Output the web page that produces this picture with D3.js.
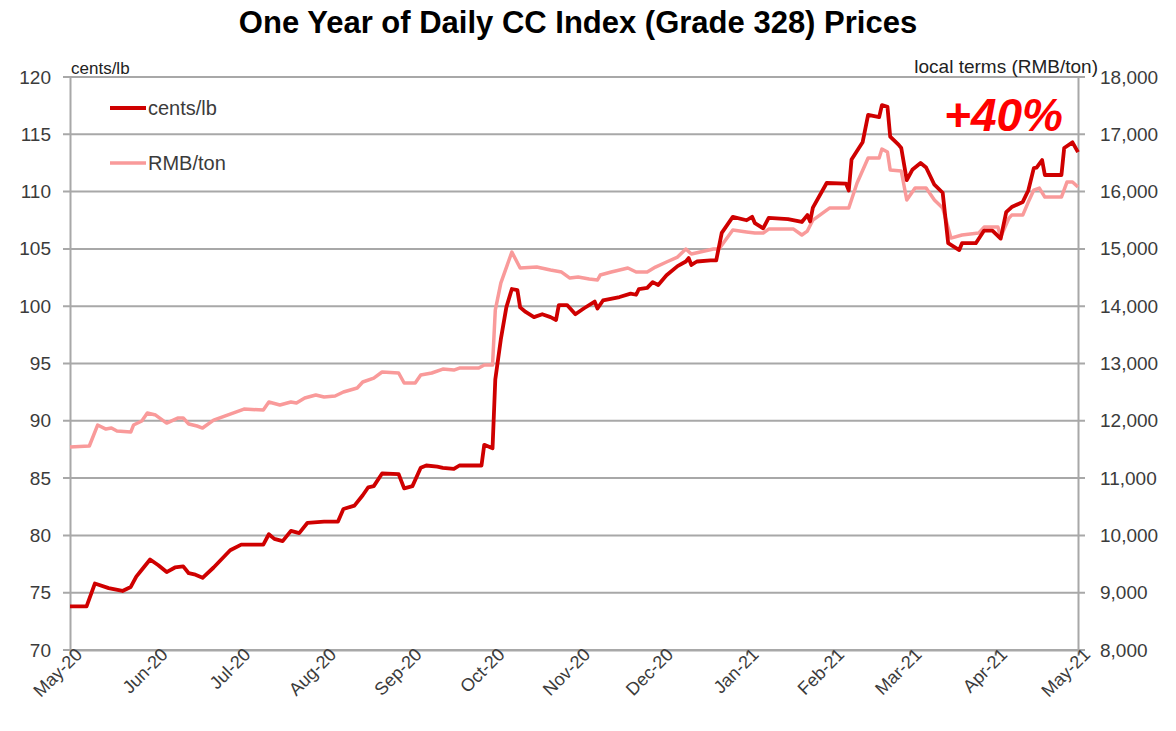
<!DOCTYPE html>
<html>
<head>
<meta charset="utf-8">
<script src="https://cdn.jsdelivr.net/npm/d3@7"></script>
<style>
  body { margin: 0; background: #fff; }
  svg { font-family: "Liberation Sans", Arial, sans-serif; }
</style>
</head>
<body>
<div id="chart"></div>
<script>
// cents/lb series (date, value)
var centsDates = ["2020-05-01","2020-05-07","2020-05-10","2020-05-15","2020-05-20","2020-05-23","2020-05-25","2020-05-27","2020-05-30",
  "2020-06-02","2020-06-05","2020-06-08","2020-06-11","2020-06-13","2020-06-15","2020-06-18","2020-06-22","2020-06-28",
  "2020-07-02","2020-07-10","2020-07-12","2020-07-14","2020-07-17","2020-07-20","2020-07-23","2020-07-26",
  "2020-08-01","2020-08-06","2020-08-08","2020-08-12","2020-08-15","2020-08-17","2020-08-19","2020-08-22","2020-08-28","2020-08-30",
  "2020-09-02","2020-09-05","2020-09-07","2020-09-11","2020-09-13","2020-09-17","2020-09-19","2020-09-27","2020-09-28",
  "2020-10-01","2020-10-02","2020-10-04","2020-10-06","2020-10-08","2020-10-10","2020-10-11","2020-10-13","2020-10-16","2020-10-19",
  "2020-10-22","2020-10-24","2020-10-25","2020-10-28","2020-10-31",
  "2020-11-03","2020-11-07","2020-11-08","2020-11-10","2020-11-16","2020-11-20","2020-11-22","2020-11-23","2020-11-26","2020-11-28","2020-11-30",
  "2020-12-03","2020-12-07","2020-12-10","2020-12-11","2020-12-12","2020-12-14","2020-12-19","2020-12-21","2020-12-23","2020-12-27",
  "2021-01-01","2021-01-03","2021-01-04","2021-01-07","2021-01-09","2021-01-16","2021-01-21","2021-01-23","2021-01-24","2021-01-25","2021-01-30",
  "2021-02-06","2021-02-07","2021-02-08","2021-02-12","2021-02-14","2021-02-18","2021-02-19","2021-02-21","2021-02-22","2021-02-25","2021-02-26","2021-02-28",
  "2021-03-02","2021-03-05","2021-03-07","2021-03-10","2021-03-13","2021-03-15","2021-03-17","2021-03-19","2021-03-20","2021-03-25","2021-03-28","2021-03-31",
  "2021-04-03","2021-04-05","2021-04-07","2021-04-11","2021-04-13","2021-04-15","2021-04-16","2021-04-18","2021-04-19","2021-04-25","2021-04-26","2021-04-29","2021-05-01"];
var centsValues = [73.8,73.8,75.8,75.4,75.15,75.5,76.4,77.0,77.9,
  77.4,76.8,77.2,77.3,76.7,76.6,76.3,77.2,78.7,
  79.2,79.2,80.1,79.7,79.5,80.4,80.2,81.1,
  81.2,81.2,82.3,82.6,83.5,84.2,84.3,85.4,85.35,84.1,
  84.3,85.9,86.1,86.0,85.9,85.8,86.1,86.1,87.9,
  87.6,93.6,97.1,99.9,101.5,101.4,99.9,99.5,99.05,99.3,
  99.05,98.8,100.1,100.1,99.3,
  99.8,100.4,99.8,100.5,100.8,101.1,101.0,101.5,101.6,102.1,101.85,
  102.7,103.5,103.9,104.2,103.6,103.9,104.0,104.0,106.4,107.8,
  107.5,107.8,107.25,106.8,107.7,107.6,107.35,107.95,107.4,108.6,110.75,
  110.7,110.1,112.8,114.3,116.7,116.5,117.55,117.4,114.8,114.1,113.8,111.0,
  111.9,112.5,112.1,110.6,109.9,105.5,105.2,104.9,105.5,105.5,106.6,106.6,
  105.9,108.2,108.65,109.1,110.1,112.05,112.1,112.75,111.45,111.45,113.8,114.3,113.45];

// RMB/ton series (date, value)
var rmbDates = ["2020-05-01","2020-05-08","2020-05-11","2020-05-14","2020-05-16","2020-05-18","2020-05-23","2020-05-24","2020-05-27","2020-05-29",
  "2020-06-01","2020-06-05","2020-06-09","2020-06-11","2020-06-13","2020-06-16","2020-06-18","2020-06-22","2020-06-27","2020-06-30",
  "2020-07-03","2020-07-10","2020-07-12","2020-07-16","2020-07-20","2020-07-22","2020-07-25","2020-07-29",
  "2020-08-01","2020-08-05","2020-08-08","2020-08-13","2020-08-15","2020-08-19","2020-08-22","2020-08-28","2020-08-30",
  "2020-09-03","2020-09-05","2020-09-09","2020-09-13","2020-09-17","2020-09-19","2020-09-26","2020-09-28",
  "2020-10-01","2020-10-02","2020-10-04","2020-10-08","2020-10-11","2020-10-17","2020-10-22","2020-10-26","2020-10-29",
  "2020-11-01","2020-11-05","2020-11-08","2020-11-09","2020-11-13","2020-11-19","2020-11-22","2020-11-26","2020-11-29",
  "2020-12-03","2020-12-07","2020-12-10","2020-12-12","2020-12-20","2020-12-22","2020-12-27",
  "2021-01-01","2021-01-04","2021-01-07","2021-01-09","2021-01-18","2021-01-21","2021-01-23","2021-01-25","2021-01-29","2021-01-31",
  "2021-02-07","2021-02-10","2021-02-14","2021-02-18","2021-02-19","2021-02-21","2021-02-22","2021-02-26","2021-02-28",
  "2021-03-03","2021-03-07","2021-03-10","2021-03-13","2021-03-16","2021-03-20","2021-03-26","2021-03-28",
  "2021-04-02","2021-04-03","2021-04-06","2021-04-07","2021-04-11","2021-04-13","2021-04-15","2021-04-17","2021-04-19","2021-04-25","2021-04-27","2021-04-29","2021-05-01"];
var rmbValues = [11542,11560,11926,11856,11874,11822,11804,11926,11996,12136,
  12100,11960,12048,12048,11944,11909,11874,12013,12100,12153,
  12205,12188,12328,12275,12328,12310,12397,12450,
  12415,12432,12502,12572,12677,12746,12851,12834,12660,
  12660,12799,12834,12903,12886,12921,12921,12973,
  12973,13933,14404,14945,14666,14683,14631,14596,14491,
  14509,14474,14457,14544,14596,14666,14596,14596,14683,
  14771,14858,14997,14910,14997,14997,15329,
  15294,15276,15276,15346,15346,15242,15311,15503,15643,15713,
  15713,16149,16585,16585,16742,16690,16376,16359,15853,
  16062,16062,15853,15713,15189,15242,15276,15381,
  15381,15207,15538,15590,15590,15817,16027,16062,15905,15905,16167,16167,16080];

var leftTicks = [70, 75, 80, 85, 90, 95, 100, 105, 110, 115, 120];
var rightTicks = [8000, 9000, 10000, 11000, 12000, 13000, 14000, 15000, 16000, 17000, 18000];
var monthTicks = ["2020-05-01","2020-06-01","2020-07-01","2020-08-01","2020-09-01","2020-10-01","2020-11-01",
  "2020-12-01","2021-01-01","2021-02-01","2021-03-01","2021-04-01","2021-05-01"];

var seriesNames = ["cents/lb", "RMB/ton"];
var seriesColors = ["#cf0000", "#f99a9a"];

var W = 1176, H = 731;
var margin = { top: 77, right: 98, bottom: 81, left: 70 };
var width = W - margin.left - margin.right,
  height = H - margin.top - margin.bottom;

var parse = d3.timeParse("%Y-%m-%d");
var fmtMonth = d3.timeFormat("%b-%y");
var gridColor = "#a8a8a8", textColor = "#3b3b3b";

var svg = d3.select("#chart").append("svg")
  .attr("width", W)
  .attr("height", H);

svg.append("text")
  .attr("x", 578)
  .attr("y", 33)
  .attr("text-anchor", "middle")
  .style("font-size", "31px")
  .style("font-weight", "bold")
  .style("fill", "#000")
  .text("One Year of Daily CC Index (Grade 328) Prices");

var g = svg.append("g")
  .attr("transform", "translate(" + margin.left + "," + margin.top + ")");

var x = d3.scaleTime()
  .domain([parse("2020-05-01"), parse("2021-05-01")])
  .range([0, width]);
var yL = d3.scaleLinear().domain([70, 120]).range([height, 0]);
var yR = d3.scaleLinear().domain([8000, 18000]).range([height, 0]);

// gridlines
g.append("g").selectAll("line")
  .data(leftTicks)
  .enter().append("line")
  .attr("x1", -7).attr("x2", width + 7)
  .attr("y1", function(d) { return yL(d); })
  .attr("y2", function(d) { return yL(d); })
  .style("stroke", gridColor)
  .style("stroke-width", 2);

// left axis
var axL = g.append("g")
  .call(d3.axisLeft(yL).tickValues(leftTicks).tickSize(0).tickPadding(19));
axL.select(".domain").style("stroke", gridColor).style("stroke-width", 2);
axL.selectAll("text").style("font-size", "19px").style("fill", textColor)
  .attr("font-family", null);

// right axis
var axR = g.append("g")
  .attr("transform", "translate(" + width + ",0)")
  .call(d3.axisRight(yR).tickValues(rightTicks).tickSize(0).tickPadding(22).tickFormat(d3.format(",")));
axR.select(".domain").style("stroke", gridColor).style("stroke-width", 2);
axR.selectAll("text").style("font-size", "19px").style("fill", textColor)
  .attr("font-family", null);

// bottom axis
var axB = g.append("g")
  .attr("transform", "translate(0," + height + ")")
  .call(d3.axisBottom(x).tickValues(monthTicks.map(parse)).tickSize(6).tickSizeOuter(0).tickFormat(fmtMonth));
axB.select(".domain").style("stroke", gridColor).style("stroke-width", 2);
axB.selectAll(".tick line").style("stroke", gridColor).style("stroke-width", 2);
axB.selectAll("text")
  .attr("font-family", null)
  .style("font-size", "18px")
  .style("fill", textColor)
  .attr("text-anchor", "end")
  .attr("dx", null).attr("dy", null)
  .attr("x", 5).attr("y", 13)
  .attr("transform", "rotate(-45)");

// axis titles
svg.append("text")
  .attr("x", margin.left + 1).attr("y", 74)
  .style("font-size", "17px").style("fill", "#222")
  .text("cents/lb");
svg.append("text")
  .attr("x", 1098).attr("y", 73)
  .attr("text-anchor", "end")
  .style("font-size", "19px").style("fill", "#222")
  .text("local terms (RMB/ton)");

// lines
var centsData = centsDates.map(function(d, i) { return { date: parse(d), value: centsValues[i] }; });
var rmbData = rmbDates.map(function(d, i) { return { date: parse(d), value: rmbValues[i] }; });

var lineL = d3.line()
  .x(function(d) { return x(d.date); })
  .y(function(d) { return yL(d.value); });
var lineR = d3.line()
  .x(function(d) { return x(d.date); })
  .y(function(d) { return yR(d.value); });

g.append("path")
  .datum(rmbData)
  .attr("d", lineR)
  .style("fill", "none")
  .style("stroke", seriesColors[1])
  .style("stroke-width", 3.5)
  .style("stroke-linejoin", "round");

g.append("path")
  .datum(centsData)
  .attr("d", lineL)
  .style("fill", "none")
  .style("stroke", seriesColors[0])
  .style("stroke-width", 3.8)
  .style("stroke-linejoin", "round");

// legend
var legend = svg.append("g").selectAll("g")
  .data(seriesNames)
  .enter().append("g")
  .attr("transform", function(d, i) { return "translate(110," + (108 + i * 55) + ")"; });
legend.append("line")
  .attr("x1", 0).attr("x2", 36)
  .style("stroke", function(d, i) { return seriesColors[i]; })
  .style("stroke-width", function(d, i) { return i === 0 ? 4 : 3.5; });
legend.append("text")
  .attr("x", 38).attr("y", 7)
  .style("font-size", "20px").style("fill", textColor)
  .text(function(d) { return d; });

// annotation
svg.append("text")
  .attr("x", 1063).attr("y", 131)
  .attr("text-anchor", "end")
  .style("font-size", "46px")
  .style("font-weight", "bold")
  .style("font-style", "italic")
  .style("fill", "#ff0000")
  .text("+40%");
</script>
</body>
</html>
